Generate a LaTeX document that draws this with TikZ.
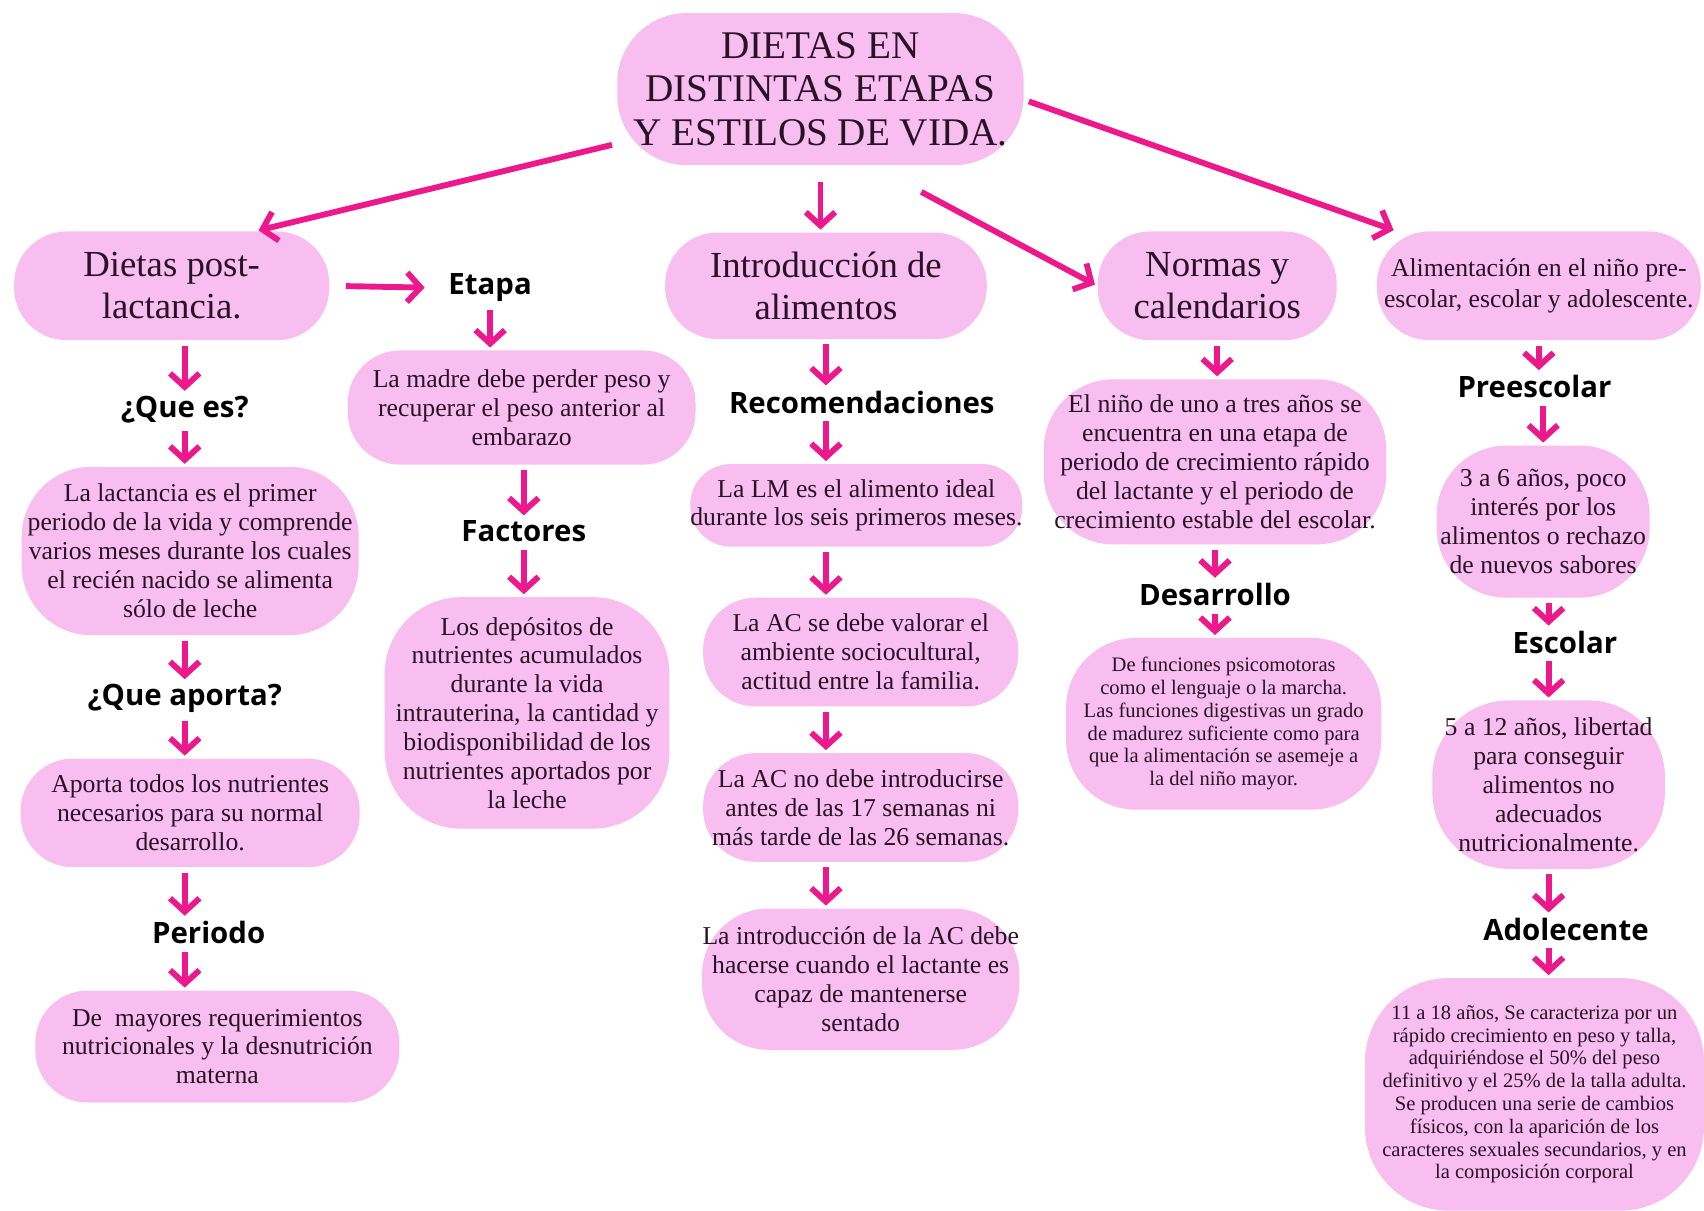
\documentclass[tikz,border=0pt]{standalone}
\usepackage{fontspec}
\setmainfont{Liberation Serif}
\newfontfamily\tagfont{Open Sans}
\usetikzlibrary{arrows.meta}
\definecolor{bubblepink}{RGB}{249,190,240}
\definecolor{linkpink}{RGB}{236,24,140}
\definecolor{ink}{RGB}{40,18,40}
\newcommand\px{0.0156cm}

\begin{document}
\begin{tikzpicture}[
	x=\px, y=-\px,
	bubble/.style={fill=bubblepink, text=ink, rounded corners=0.75cm, align=center, inner sep=0pt, font=\fontsize{10.5}{11.8}\selectfont},
	head/.style={bubble, font=\fontsize{15}{17}\selectfont},
	small/.style={font=\fontsize{8.4}{9.3}\selectfont},
	wh/.style 2 args={minimum width=#1*\px, minimum height=#2*\px},
	tag/.style={font=\tagfont\bfseries\fontsize{12}{14}\selectfont, inner sep=1pt},
	link/.style={draw=linkpink, line width=2.4pt, shorten <=2pt, shorten >=1pt, -{Straight Barb[length=5.5pt, width=12pt]}}
	]
	\useasboundingbox (0,0) rectangle (1568,1114);

	\node[bubble, wh={374}{140}, rounded corners=1cm, font=\fontsize{16}{17.7}\selectfont] (title) at (755,82) {DIETAS EN\\DISTINTAS ETAPAS\\Y ESTILOS DE VIDA.};

	\node[head, wh={290}{100}] (post) at (158,263) {Dietas post-\\lactancia.};
	\node[tag] (etapa) at (451,265) {Etapa};
	\node[head, wh={296}{98}] (intro) at (760,263) {Introducción de\\alimentos};
	\node[head, wh={220}{100}] (normas) at (1120,263) {Normas y\\calendarios};
	\node[bubble, wh={298}{100}, font=\fontsize{10.5}{12.4}\selectfont] (alim) at (1416,263) {Alimentación en el niño pre-\\escolar, escolar y adolescente.};

	\node[tag] (queEs) at (170,377) {¿Que es?};
	\node[bubble, wh={310}{155}, rounded corners=1cm] (lactancia) at (175,507) {La lactancia es el primer\\periodo de la vida y comprende\\varios meses durante los cuales\\el recién nacido se alimenta\\sólo de leche};
	\node[tag] (queAporta) at (170,643) {¿Que aporta?};
	\node[bubble, wh={312}{100}] (aporta) at (175,748) {Aporta todos los nutrientes\\necesarios para su normal\\desarrollo.};
	\node[tag] (periodo) at (192,858) {Periodo};
	\node[bubble, wh={335}{103}] (mayores) at (200,963) {De~ mayores requerimientos\\nutricionales y la desnutrición\\materna};

	\node[bubble, wh={320}{105}] (madre) at (480,375) {La madre debe perder peso y\\recuperar el peso anterior al\\embarazo};
	\node[tag] (factores) at (482,489) {Factores};
	\node[bubble, wh={262}{213}, rounded corners=1.1cm] (depositos) at (485,656) {Los depósitos de\\nutrientes acumulados\\durante la vida\\intrauterina, la cantidad y\\biodisponibilidad de los\\nutrientes aportados por\\la leche};

	\node[tag] (recom) at (793,370) {Recomendaciones};
	\node[bubble, wh={300}{76}, rounded corners=0.58cm] (lm) at (788,465) {La LM es el alimento ideal\\durante los seis primeros meses.};
	\node[bubble, wh={290}{100}] (acValorar) at (792,600) {La AC se debe valorar el\\ambiente sociocultural,\\actitud entre la familia.};
	\node[bubble, wh={290}{100}] (acNo) at (792,743) {La AC no debe introducirse\\antes de las 17 semanas ni\\más tarde de las 26 semanas.};
	\node[bubble, wh={292}{130}, rounded corners=0.95cm] (acIntro) at (792,901) {La introducción de la AC debe\\hacerse cuando el lactante es\\capaz de mantenerse\\sentado};

	\node[bubble, wh={315}{152}, rounded corners=1cm] (nino) at (1118,425) {El niño de uno a tres años se\\encuentra en una etapa de\\periodo de crecimiento rápido\\del lactante y el periodo de\\crecimiento estable del escolar.};
	\node[tag] (desarrollo) at (1118,547) {Desarrollo};
	\node[bubble, small, wh={290}{158}, rounded corners=1cm] (funciones) at (1126,666) {De funciones psicomotoras\\como el lenguaje o la marcha.\\Las funciones digestivas un grado\\de madurez suficiente como para\\que la alimentación se asemeje a\\la del niño mayor.};

	\node[tag] (preescolar) at (1412,356) {Preescolar};
	\node[bubble, wh={196}{140}, rounded corners=1cm] (tres) at (1420,480) {3 a 6 años, poco\\interés por los\\alimentos o rechazo\\de nuevos sabores};
	\node[tag] (escolar) at (1440,591) {Escolar};
	\node[bubble, wh={214}{155}, rounded corners=1.1cm] (cinco) at (1425,722) {5 a 12 años, libertad\\para conseguir\\alimentos no\\adecuados\\nutricionalmente.};
	\node[tag] (adolecente) at (1441,855) {Adolecente};
	\node[bubble, small, wh={312}{214}, rounded corners=1.2cm] (once) at (1412,1007) {11 a 18 años, Se caracteriza por un\\rápido crecimiento en peso y talla,\\adquiriéndose el 50\% del peso\\definitivo y el 25\% de la talla adulta.\\Se producen una serie de cambios\\físicos, con la aparición de los\\caracteres sexuales secundarios, y en\\la composición corporal};

	\draw[link] (title.195) -- (post.33);
	\draw[link, shorten <=0.23cm] (title.south) -- (title.south |- intro.north);
	\draw[link, shorten <=0.8cm] (title.-56) -- (normas.west);
	\draw[link] (title.-3) -- (alim.159);
	\draw[link, shorten <=0.23cm, shorten >=0.3cm] (post.east) -- (etapa.west);

	\draw[link] (post.south -| queEs.north) -- (queEs.north);
	\draw[link] (queEs.south) -- (queEs.south |- lactancia.north);
	\draw[link] (lactancia.south -| queAporta.north) -- (queAporta.north);
	\draw[link] (queAporta.south) -- (queAporta.south |- aporta.north);
	\draw[link] (aporta.south -| queAporta.north) -- (queAporta.north |- periodo.north);
	\draw[link] (periodo.south -| queAporta.south) -- (queAporta.south |- mayores.north);

	\draw[link] (etapa.south) -- (etapa.south |- madre.north);
	\draw[link] (madre.south -| factores.north) -- (factores.north);
	\draw[link] (factores.south) -- (factores.south |- depositos.north);

	\draw[link] (intro.south) -- (intro.south |- recom.north);
	\draw[link] (recom.south -| intro.south) -- (intro.south |- lm.north);
	\draw[link] (lm.south -| intro.south) -- (acValorar.north -| intro.south);
	\draw[link] (acValorar.south -| intro.south) -- (acNo.north -| intro.south);
	\draw[link] (acNo.south -| intro.south) -- (acIntro.north -| intro.south);

	\draw[link] (normas.south) -- (normas.south |- nino.north);
	\draw[link] (nino.south -| desarrollo.north) -- (desarrollo.north);
	\draw[link] (desarrollo.south) -- (desarrollo.south |- funciones.north);

	\draw[link] (alim.south) -- (alim.south |- preescolar.north);
	\draw[link] (preescolar.south -| tres.north) -- (tres.north);
	\draw[link] (tres.south -| cinco.north) -- (cinco.north |- escolar.north);
	\draw[link] (escolar.south -| cinco.north) -- (cinco.north);
	\draw[link] (cinco.south) -- (cinco.south |- adolecente.north);
	\draw[link] (adolecente.south -| cinco.south) -- (cinco.south |- once.north);
\end{tikzpicture}
\end{document}
